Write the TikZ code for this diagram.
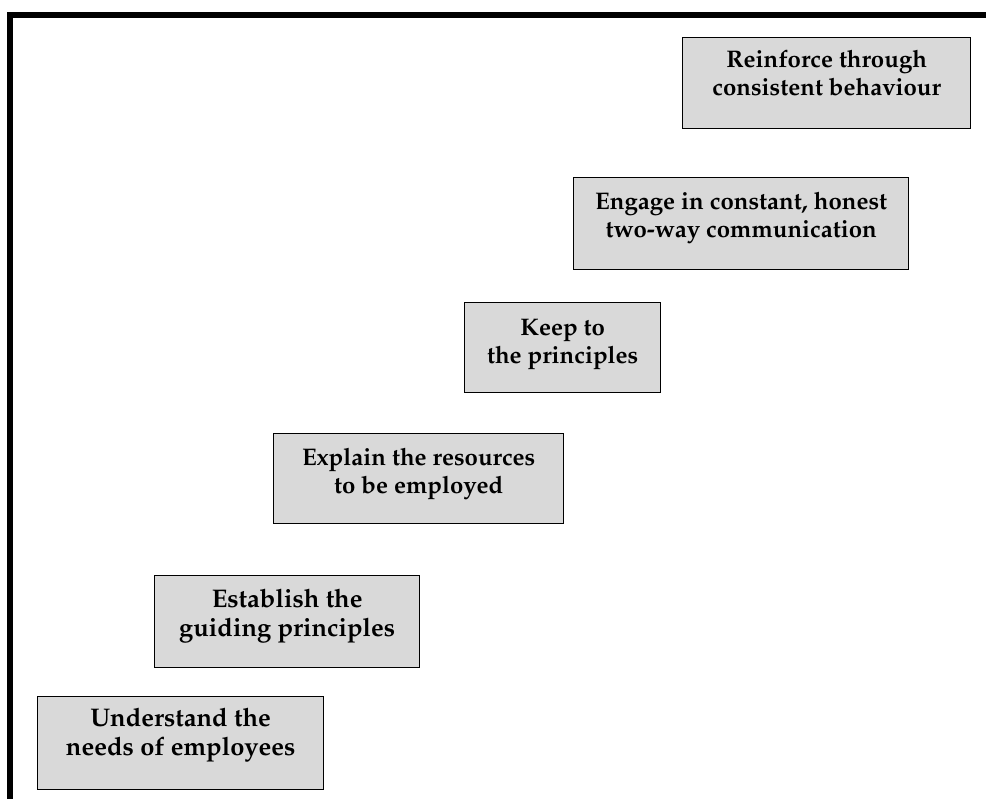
\documentclass[tikz,border=0pt]{standalone}
\usepackage[T1]{fontenc}
\renewcommand\rmdefault{ppl}
\definecolor{boxgray}{RGB}{217,217,217}
\tikzset{
  stepbox/.style={draw=black, line width=1.4pt, fill=boxgray, inner sep=0pt, anchor=north west},
  lbl/.style={font=\bfseries\fontsize{24}{28}\selectfont, align=center, anchor=north, inner sep=0pt},
  lblbig/.style={lbl, font=\bfseries\fontsize{25.5}{29}\selectfont},
  frame/.style={line width=6pt, line join=miter}
}
\begin{document}
\begin{tikzpicture}[x=1pt,y=-1pt]
\useasboundingbox (0,0) rectangle (986,799);
\coordinate (fb) at (10,799);
\coordinate (fc) at (10,15);
\coordinate (fr) at (986,15);
\draw[frame] (fb) -- (fc) -- (fr);

\node[stepbox, minimum width=286pt, minimum height=93pt] (b1) at (37,696) {};
\node[lblbig] (t1) at ([yshift=-12pt]b1.north) {Understand the\\needs of employees};

\node[stepbox, minimum width=265pt, minimum height=92pt] (b2) at (154,575) {};
\node[lblbig] (t2) at ([yshift=-14pt]b2.north) {Establish the\\guiding principles};

\node[stepbox, minimum width=290pt, minimum height=90pt] (b3) at (273,433) {};
\node[lbl] (t3) at ([yshift=-15pt]b3.north) {Explain the resources\\to be employed};

\node[stepbox, minimum width=196pt, minimum height=90pt] (b4) at (464,302) {};
\node[lbl] (t4) at ([yshift=-17pt]b4.north) {Keep to\\the principles};

\node[stepbox, minimum width=335pt, minimum height=92pt] (b5) at (573,177) {};
\node[lbl] (t5) at ([yshift=-15pt]b5.north) {Engage in constant, honest\\two-way communication};

\node[stepbox, minimum width=288pt, minimum height=91pt] (b6) at (682,37) {};
\node[lbl] (t6) at ([yshift=-13pt]b6.north) {Reinforce through\\consistent behaviour};
\end{tikzpicture}
\end{document}
